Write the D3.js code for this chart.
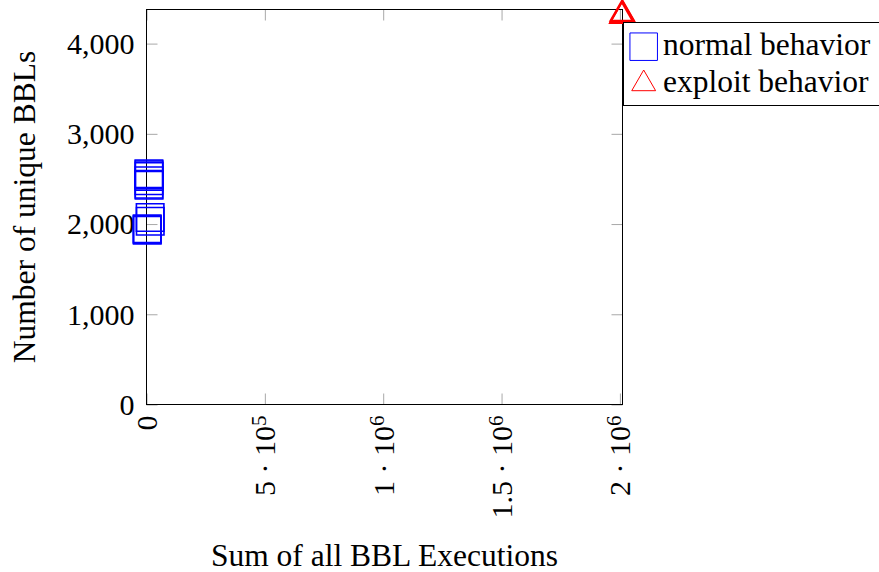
<!DOCTYPE html>
<html>
<head>
<meta charset="utf-8">
<script src="https://cdn.jsdelivr.net/npm/d3@7"></script>
<style>
  html, body { margin: 0; padding: 0; background: #fff; }
  svg { display: block; }
  svg text { font-family: "Liberation Serif", "Times New Roman", serif !important; fill: #000; }
</style>
</head>
<body>
<svg id="chart" width="879" height="572"></svg>
<script>
// Normal runs: sum of BBL executions vs. number of unique BBLs
const normalX = [10200, 10800, 11000, 10500, 10300, 10900, 15400, 15800, 2800, 3100, 2950];
const normalY = [2558, 2547, 2528, 2480, 2441, 2430, 2072, 2031, 1948, 1931, 1940];

// Exploit runs
const exploitX = [2008000, 2011000, 2010000];
const exploitY = [4305, 4318, 4330];

// Axis ticks
const xTickValues = [0, 500000, 1000000, 1500000, 2000000];
const xTickMantissa = ["0", "5", "1", "1.5", "2"];
const xTickExponent = [null, "5", "6", "6", "6"];
const yTickValues = [0, 1000, 2000, 3000, 4000];

const legendLabels = ["normal behavior", "exploit behavior"];

const plot = { left: 146.5, right: 622.5, top: 9.5, bottom: 404.5 };
const tickLen = 11;
const tickColor = "#a8a8a8";
const blue = "#0000ff", red = "#ff0000";
const serif = "'Liberation Serif', 'Times New Roman', serif";
const tickFont = 30;
const textFont = 31.5;

const x = d3.scaleLinear().domain([0, 2011000]).range([plot.left, plot.right]);
const y = d3.scaleLinear().domain([0, 4378]).range([plot.bottom, plot.top]);

const svg = d3.select("#chart");

// Left axis with labels, ticks pointing inward
svg.append("g")
  .attr("transform", `translate(${plot.left},0)`)
  .call(d3.axisLeft(y).tickValues(yTickValues).tickSize(-tickLen).tickPadding(12).tickFormat(d3.format(",")))
  .attr("font-size", tickFont)
  .attr("font-family", serif)
  .call(g => {
    g.select(".domain").remove();
    g.selectAll(".tick line").attr("stroke", tickColor);
    g.selectAll(".tick text").attr("dy", "0.33em");
  });

// Right axis: ticks only
svg.append("g")
  .attr("transform", `translate(${plot.right},0)`)
  .call(d3.axisRight(y).tickValues(yTickValues).tickSize(-tickLen).tickFormat(""))
  .call(g => { g.select(".domain").remove(); g.selectAll(".tick line").attr("stroke", tickColor); });

// Top axis: ticks only
svg.append("g")
  .attr("transform", `translate(0,${plot.top})`)
  .call(d3.axisTop(x).tickValues(xTickValues).tickSize(-tickLen).tickFormat(""))
  .call(g => { g.select(".domain").remove(); g.selectAll(".tick line").attr("stroke", tickColor); });

// Bottom axis with rotated labels in scientific notation
svg.append("g")
  .attr("transform", `translate(0,${plot.bottom})`)
  .call(d3.axisBottom(x).tickValues(xTickValues).tickSize(-tickLen))
  .attr("font-size", tickFont)
  .attr("font-family", serif)
  .call(g => {
    g.select(".domain").remove();
    g.selectAll(".tick line").attr("stroke", tickColor);
    g.selectAll(".tick text").each(function (d, i) {
      const t = d3.select(this);
      t.text(null)
        .attr("y", null)
        .attr("x", -11)
        .attr("dy", "0.33em")
        .attr("text-anchor", "end")
        .attr("transform", "rotate(-90)");
      const exp = xTickExponent[i];
      t.append("tspan").text(exp ? `${xTickMantissa[i]} · 10` : xTickMantissa[i]);
      if (exp) {
        t.append("tspan").attr("dy", "-0.45em").attr("font-size", "0.7em").text(exp);
      }
    });
  });

// Plot frame
svg.append("rect")
  .attr("x", plot.left).attr("y", plot.top)
  .attr("width", plot.right - plot.left).attr("height", plot.bottom - plot.top)
  .attr("fill", "none").attr("stroke", "#000").attr("stroke-width", 1);

const squareSym = d3.symbol(d3.symbolSquare, 27.5 * 27.5);
const triSym = d3.symbol(d3.symbolTriangle, 3 * Math.sqrt(3) * Math.pow(13.8 / 2, 2));

// Normal behavior markers
svg.append("g")
  .selectAll("path")
  .data(d3.zip(normalX, normalY))
  .join("path")
  .attr("transform", d => `translate(${x(d[0])},${y(d[1])})`)
  .attr("d", squareSym)
  .attr("fill", "none")
  .attr("stroke", blue)
  .attr("stroke-width", 1.6);

// Exploit behavior markers
svg.append("g")
  .selectAll("path")
  .data(d3.zip(exploitX, exploitY))
  .join("path")
  .attr("transform", d => `translate(${x(d[0])},${y(d[1])})`)
  .attr("d", triSym)
  .attr("fill", "none")
  .attr("stroke", red)
  .attr("stroke-width", 1.8);

// Legend
const legend = svg.append("g");
legend.append("rect")
  .attr("x", 623.5).attr("y", 22.5).attr("width", 300).attr("height", 83)
  .attr("fill", "#fff").attr("stroke", "#000").attr("stroke-width", 1);
legend.append("path")
  .attr("transform", "translate(643.7,46.7)")
  .attr("d", squareSym).attr("fill", "none").attr("stroke", blue).attr("stroke-width", 1);
legend.append("path")
  .attr("transform", "translate(643.7,83.8)")
  .attr("d", triSym).attr("fill", "none").attr("stroke", red).attr("stroke-width", 1);
legend.selectAll("text.lbl")
  .data(legendLabels)
  .join("text")
  .attr("class", "lbl")
  .attr("x", 663)
  .attr("y", (d, i) => i === 0 ? 55 : 91.5)
  .attr("font-size", textFont)
  .text(d => d);

// Axis titles
svg.append("text")
  .attr("x", (plot.left + plot.right) / 2)
  .attr("y", 566)
  .attr("text-anchor", "middle")
  .attr("font-size", textFont)
  .text("Sum of all BBL Executions");

svg.append("text")
  .attr("transform", "translate(35,207) rotate(-90)")
  .attr("text-anchor", "middle")
  .attr("font-size", textFont)
  .text("Number of unique BBLs");
</script>
</body>
</html>
